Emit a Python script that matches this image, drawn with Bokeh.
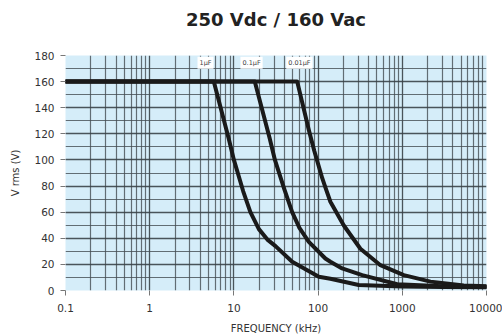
from bokeh.plotting import figure
from bokeh.models import FixedTicker, Label, Title
from bokeh.embed import file_html
from bokeh.resources import INLINE

# ---- data ----
freq_1uF = [0.1, 5.77, 8.7, 10.0, 12.9, 15.7, 19.8, 25, 31.2, 49.2, 102, 140, 304, 1000, 3000, 10000]
v_1uF = [160, 160, 116, 100, 76, 60, 47, 39, 34, 22, 10.6, 9.0, 4.2, 3.0, 2.6, 2.4]

freq_01uF = [0.1, 17.7, 26.5, 30.7, 39.5, 49.2, 60, 77.6, 122, 140, 193, 334, 871, 3000, 10000]
v_01uF = [160, 160, 117, 100, 78, 60, 48, 37.2, 24.5, 22, 16.9, 11.8, 4.8, 3.2, 2.8]

freq_001uF = [0.1, 56.5, 77.6, 90, 112, 122, 140, 202, 318, 550, 1042, 2163, 5370, 10000]
v_001uF = [160, 160, 123, 107, 86, 79, 68, 49.8, 32, 19.4, 11.8, 6.8, 3.8, 3.3]

cap_labels = ["1\u00b5F", "0.1\u00b5F", "0.01\u00b5F"]
cap_label_freq = [4.6, 16.2, 60]
cap_label_v = [174.5, 174.5, 174.5]

title_text = "250 Vdc / 160 Vac"

x_ticks = [0.1, 1, 10, 100, 1000, 10000]
x_tick_labels = ["0.1", "1", "10", "100", "1000", "10000"]
y_ticks = [0, 20, 40, 60, 80, 100, 120, 140, 160, 180]

FONT = "DejaVu Sans"

p = figure(width=502, height=336, x_axis_type="log",
           x_range=(0.1, 10000), y_range=(0, 180),
           output_backend="svg", toolbar_location=None,
           min_border_left=65, min_border_right=16,
           min_border_top=55, min_border_bottom=44)

p.background_fill_color = "#d5edf9"
p.border_fill_color = "white"
p.outline_line_color = None

# spacer panel next to the frame, then the real title above it
spacer = Title(text=" ", text_font=FONT, text_font_size="20px", standoff=0)
p.add_layout(spacer, "above")
main_title = Title(text=title_text, align="center", text_font=FONT, text_font_size="18px",
                   text_font_style="bold", text_color="#222222", standoff=0)
p.add_layout(main_title, "above")

minor_x = []
for d in [0.1, 1, 10, 100, 1000]:
    for k in range(2, 10):
        minor_x.append(d * k)
p.xaxis.ticker = FixedTicker(ticks=x_ticks, minor_ticks=minor_x)
p.xaxis.major_label_overrides = {t: l for t, l in zip(x_ticks, x_tick_labels)}
p.yaxis.ticker = FixedTicker(ticks=y_ticks, minor_ticks=list(range(10, 180, 20)))

for ax in (p.xaxis, p.yaxis):
    ax.axis_line_color = None
    ax.minor_tick_line_color = None
    ax.major_tick_line_color = "#777777"
    ax.major_tick_out = 5
    ax.major_tick_in = 0
    ax.major_label_text_font = FONT
    ax.major_label_text_font_size = "10.5px"
    ax.major_label_text_color = "#333333"
    ax.axis_label_text_font = FONT
    ax.axis_label_text_font_size = "10px"
    ax.axis_label_text_font_style = "normal"
    ax.axis_label_text_color = "#333333"

p.xaxis.axis_label = "FREQUENCY (kHz)"
p.yaxis.axis_label = "V rms (V)"
p.xaxis.major_label_standoff = 8
p.yaxis.major_label_standoff = 6
p.xaxis.axis_label_standoff = 8
p.yaxis.axis_label_standoff = 10

for g in (p.xgrid, p.ygrid):
    g.grid_line_color = "#3a4248"
    g.grid_line_width = 1.3
    g.minor_grid_line_color = "#444c52"
    g.minor_grid_line_width = 1.2
    g.grid_line_alpha = 0.9
    g.minor_grid_line_alpha = 0.8

for fx, vy in ((freq_1uF, v_1uF), (freq_01uF, v_01uF), (freq_001uF, v_001uF)):
    p.line(fx, vy, line_color="#1a1a1a", line_width=4, line_join="round", line_cap="round")

for txt, fx, vy in zip(cap_labels, cap_label_freq, cap_label_v):
    p.add_layout(Label(x=fx, y=vy, text=txt, text_font=FONT, text_font_size="6.5px",
                       text_color="#444444", text_align="center", text_baseline="middle",
                       background_fill_color="white", background_fill_alpha=1.0,
                       padding=2))

open("out.html", "w").write(file_html(p, INLINE))
